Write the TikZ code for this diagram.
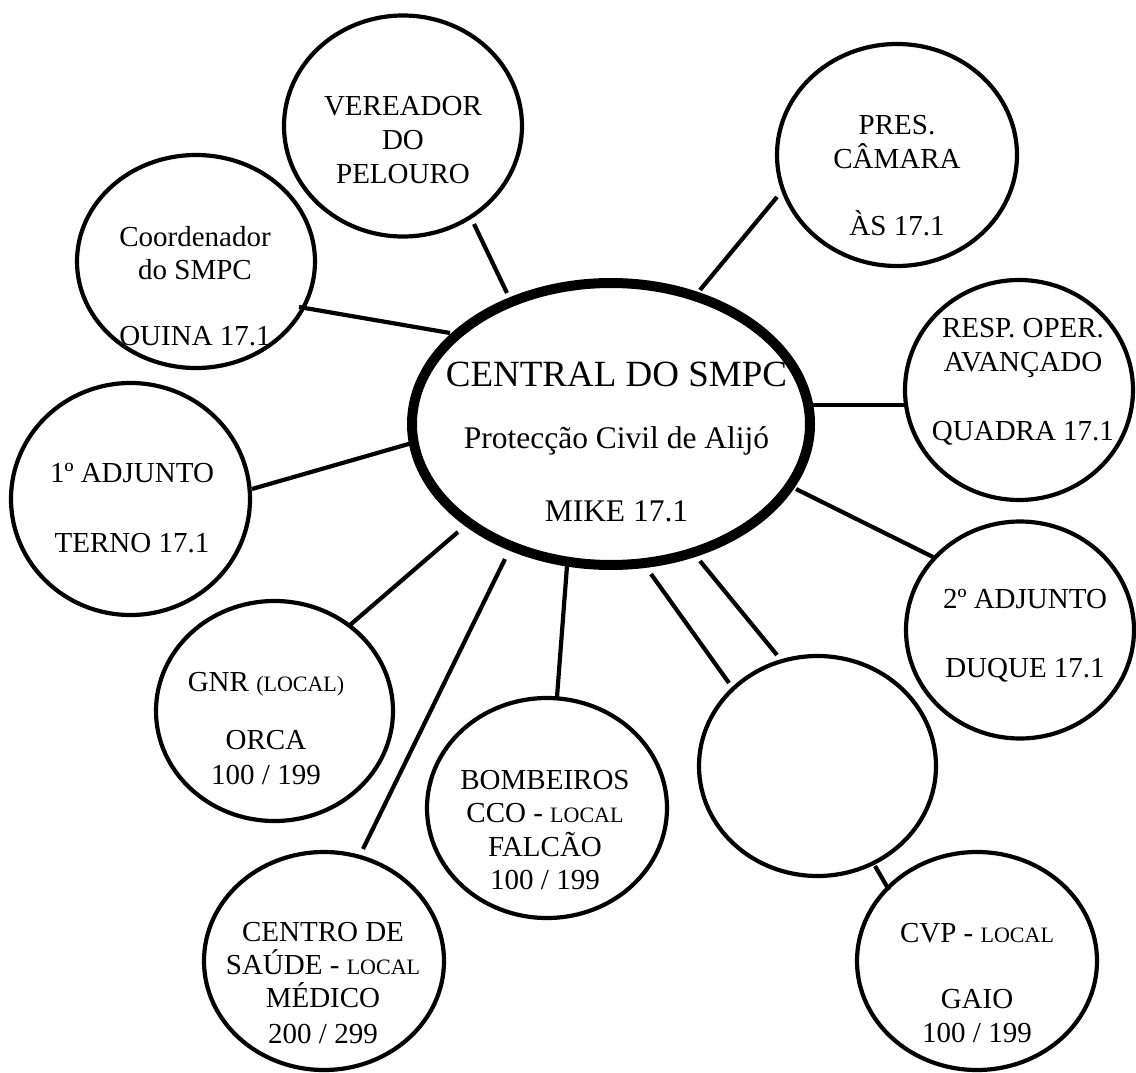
\documentclass[tikz,border=0pt]{standalone}
\usepackage{fontspec}
\setmainfont{Liberation Serif}
\usetikzlibrary{shapes.geometric}
\newcommand\Ln[1]{\hbox to 0pt{\hss#1\hss}}
\newcommand\Stk[2]{\vtop{\baselineskip=#1\relax\lineskiplimit=-1000pt\lineskip=0pt#2}}
\newcommand\Gap[1]{\vskip#1\relax}
\newcommand\smc[1]{{\fontsize{22}{22}\selectfont #1}}
\tikzset{
  bub/.style={ellipse, draw, line width=4.2pt, inner sep=0pt, outer sep=0pt},
  hub/.style={ellipse, draw, line width=10pt, inner sep=0pt, outer sep=0pt,
              minimum width=398pt, minimum height=282pt},
  link/.style={line width=4.2pt},
  lbl/.style={anchor=base, inner sep=0pt, font=\fontsize{29}{34}\selectfont},
}
\begin{document}
\begin{tikzpicture}[x=1pt,y=-1pt]
\useasboundingbox (0,0) rectangle (1136,1073);
% shapes
\node[hub] (cen) at (611,424) {};
\node[bub, minimum width=238pt, minimum height=221pt] (ver) at (403,126) {};
\node[bub, minimum width=238pt, minimum height=213pt] (coo) at (196,261.5) {};
\node[bub, minimum width=240pt, minimum height=222pt] (pre) at (897,155) {};
\node[bub, minimum width=228pt, minimum height=220pt] (res) at (1019,390) {};
\node[bub, minimum width=239pt, minimum height=232pt] (adj1) at (130.5,499) {};
\node[bub, minimum width=228pt, minimum height=217pt] (adj2) at (1020,630) {};
\node[bub, minimum width=237pt, minimum height=220pt] (gnr) at (274.5,711) {};
\node[bub, minimum width=240pt, minimum height=220pt] (bom) at (547,808) {};
\node[bub, minimum width=237pt, minimum height=220pt] (emp) at (817.5,766) {};
\node[bub, minimum width=240pt, minimum height=218pt] (cs) at (324,961) {};
\node[bub, minimum width=240pt, minimum height=218pt] (cvp) at (977,961) {};
% connectors
\draw[link] ([shift={(71,98)}]ver.center) -- ([shift={(-104,-131)}]cen.center);
\draw[link] ([shift={(103,45.5)}]coo.center) -- ([shift={(-161,-91)}]cen.center);
\draw[link] ([shift={(121.5,-10)}]adj1.center) -- ([shift={(-199,19)}]cen.center);
\draw[link] ([shift={(-120,42)}]pre.center) -- ([shift={(89,-134)}]cen.center);
\draw[link] ([shift={(-114,15)}]res.center) -- ([shift={(201,-19)}]cen.center);
\draw[link] ([shift={(-87,-73)}]adj2.center) -- ([shift={(185,65)}]cen.center);
\draw[link] ([shift={(75.5,-86)}]gnr.center) -- ([shift={(-153,108)}]cen.center);
\draw[link] ([shift={(39,-112)}]cs.center) -- ([shift={(-106,135)}]cen.center);
\draw[link] ([shift={(10,-111)}]bom.center) -- ([shift={(-44,142)}]cen.center);
\draw[link] ([shift={(-88.5,-83)}]emp.center) -- ([shift={(40,150)}]cen.center);
\draw[link] ([shift={(-40.5,-111)}]emp.center) -- ([shift={(89,137)}]cen.center);
\draw[link] ([shift={(57.5,100)}]emp.center) -- ([shift={(-88,-71)}]cvp.center);
% texts
\node[lbl, font=\fontsize{31.5}{34}\selectfont] (tcen) at ([shift={(5.5,-38)}]cen.center)
  {\Stk{62pt}{\Ln{\fontsize{37}{40}\selectfont CENTRAL DO SMPC}\Ln{Protecção Civil de Alijó}\Gap{11pt}\Ln{MIKE 17.1}}};
\node[lbl] (tver) at ([shift={(0,-11)}]ver.center)
  {\Stk{34pt}{\Ln{VEREADOR}\Ln{DO}\Ln{PELOURO}}};
\node[lbl] (tcoo) at ([shift={(-1,-15.5)}]coo.center)
  {\Stk{33pt}{\Ln{Coordenador}\Ln{do SMPC}\Gap{33pt}\Ln{OUINA 17.1}}};
\node[lbl] (tpre) at ([shift={(0,-21)}]pre.center)
  {\Stk{34pt}{\Ln{PRES.}\Ln{CÂMARA}\Gap{33pt}\Ln{ÀS 17.1}}};
\node[lbl] (tres) at ([shift={(4,-53)}]res.center)
  {\Stk{34pt}{\Ln{RESP. OPER.}\Ln{AVANÇADO}\Gap{35pt}\Ln{QUADRA 17.1}}};
\node[lbl] (tadj1) at ([shift={(1.5,-17)}]adj1.center)
  {\Stk{34pt}{\Ln{1º ADJUNTO}\Gap{36pt}\Ln{TERNO 17.1}}};
\node[lbl] (tadj2) at ([shift={(5,-22)}]adj2.center)
  {\Stk{34pt}{\Ln{2º ADJUNTO}\Gap{35pt}\Ln{DUQUE 17.1}}};
\node[lbl] (tgnr) at ([shift={(-8.5,-20)}]gnr.center)
  {\Stk{35pt}{\Ln{GNR \smc{(LOCAL)}}\Gap{23pt}\Ln{ORCA}\Ln{100 / 199}}};
\node[lbl] (tbom) at ([shift={(-2,-19)}]bom.center)
  {\Stk{33.5pt}{\Ln{BOMBEIROS}\Ln{CCO - \smc{LOCAL}}\Ln{FALCÃO}\Ln{100 / 199}}};
\node[lbl] (tcs) at ([shift={(-1,-20)}]cs.center)
  {\Stk{33pt}{\Ln{CENTRO DE}\Ln{SAÚDE - \smc{LOCAL}}\Ln{MÉDICO}\Gap{3pt}\Ln{200 / 299}}};
\node[lbl] (tcvp) at ([shift={(0,-19)}]cvp.center)
  {\Stk{34.5pt}{\Ln{CVP - \smc{LOCAL}}\Gap{31.5pt}\Ln{GAIO}\Ln{100 / 199}}};
\end{tikzpicture}
\end{document}
